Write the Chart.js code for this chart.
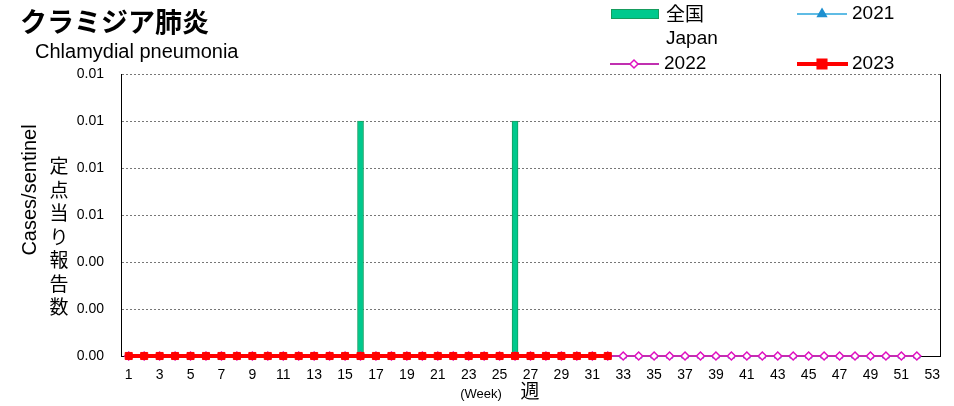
<!DOCTYPE html>
<html>
<head>
<meta charset="utf-8">
<script src="https://cdn.jsdelivr.net/npm/chart.js@4"></script>
<style>
  body { margin: 0; background: #fff; }
  #wrap { width: 954px; height: 406px; }
</style>
</head>
<body>
<div id="wrap"><canvas id="chart" width="954" height="406"></canvas></div>
<script>
// weeks 1..53
const weeks = [];
for (let w = 1; w <= 53; w++) weeks.push(String(w));

// cases per sentinel
const japan = [0, 0, 0, 0, 0, 0, 0, 0, 0, 0, 0, 0, 0, 0, 0, 0.01,
  0, 0, 0, 0, 0, 0, 0, 0, 0, 0.01, 0, 0, 0, 0, 0, 0];
const y2021 = [0, 0, 0, 0, 0, 0, 0, 0, 0, 0, 0, 0, 0, 0, 0, 0, 0, 0, 0, 0, 0, 0, 0, 0, 0, 0,
  0, 0, 0, 0, 0, 0, 0, 0, 0, 0, 0, 0, 0, 0, 0, 0, 0, 0, 0, 0, 0, 0, 0, 0, 0, 0];
const y2022 = [0, 0, 0, 0, 0, 0, 0, 0, 0, 0, 0, 0, 0, 0, 0, 0, 0, 0, 0, 0, 0, 0, 0, 0, 0, 0,
  0, 0, 0, 0, 0, 0, 0, 0, 0, 0, 0, 0, 0, 0, 0, 0, 0, 0, 0, 0, 0, 0, 0, 0, 0, 0];
const y2023 = [0, 0, 0, 0, 0, 0, 0, 0, 0, 0, 0, 0, 0, 0, 0, 0,
  0, 0, 0, 0, 0, 0, 0, 0, 0, 0, 0, 0, 0, 0, 0, 0];

const yTicks = { min: 0, max: 0.012, step: 0.002 };

const FONT = "'Liberation Sans', Arial, sans-serif";
const JFONT = "'Noto Sans CJK JP', sans-serif";

// titles, axis names and the legend are drawn by hand
const decorations = {
  id: 'decorations',
  afterDraw(chart) {
    const ctx = chart.ctx;
    const area = chart.chartArea;
    ctx.save();

    // right frame line
    ctx.strokeStyle = '#000';
    ctx.lineWidth = 1;
    ctx.beginPath();
    ctx.moveTo(Math.round(area.right) + 0.5, area.top);
    ctx.lineTo(Math.round(area.right) + 0.5, area.bottom);
    ctx.stroke();

    ctx.fillStyle = '#000';
    ctx.textBaseline = 'middle';
    ctx.textAlign = 'left';
    ctx.font = 'bold 27px ' + JFONT;
    ctx.fillText('クラミジア肺炎', 20, 22);
    ctx.font = '20px ' + FONT;
    ctx.fillText('Chlamydial pneumonia', 35, 52);

    // y axis names
    ctx.save();
    ctx.translate(30, 190);
    ctx.rotate(-Math.PI / 2);
    ctx.textAlign = 'center';
    ctx.font = '20px ' + FONT;
    ctx.fillText('Cases/sentinel', 0, 0);
    ctx.restore();

    ctx.textAlign = 'center';
    ctx.font = '19px ' + JFONT;
    const vert = '定点当り報告数';
    for (let i = 0; i < vert.length; i++) {
      ctx.fillText(vert[i], 59, 166 + i * 23.5);
    }

    // x axis names
    ctx.font = '13px ' + FONT;
    ctx.fillText('(Week)', 481, 394);
    ctx.font = '19px ' + JFONT;
    ctx.fillText('週', 530, 391);

    // legend
    ctx.textAlign = 'left';
    const ds = chart.data.datasets;

    // 全国 Japan
    ctx.fillStyle = ds[0].backgroundColor;
    ctx.strokeStyle = ds[0].borderColor;
    ctx.fillRect(611, 9, 48, 10);
    ctx.strokeRect(611.5, 9.5, 47, 9);
    ctx.fillStyle = '#000';
    ctx.font = '19px ' + JFONT;
    ctx.fillText('全国', 666, 14);
    ctx.font = '19px ' + FONT;
    ctx.fillText('Japan', 666, 39);

    // 2021
    ctx.strokeStyle = ds[1].borderColor;
    ctx.lineWidth = 1.5;
    ctx.beginPath();
    ctx.moveTo(797, 14);
    ctx.lineTo(847, 14);
    ctx.stroke();
    ctx.fillStyle = ds[1].pointBackgroundColor;
    ctx.strokeStyle = ds[1].pointBorderColor;
    Chart.helpers.drawPoint(ctx, { pointStyle: 'triangle', radius: 5, borderWidth: 1 }, 822, 14);
    ctx.fillStyle = '#000';
    ctx.fillText('2021', 852, 14);
    // 2022
    ctx.strokeStyle = ds[2].borderColor;
    ctx.lineWidth = ds[2].borderWidth;
    ctx.beginPath();
    ctx.moveTo(610, 64);
    ctx.lineTo(659, 64);
    ctx.stroke();
    ctx.fillStyle = ds[2].pointBackgroundColor;
    ctx.strokeStyle = ds[2].pointBorderColor;
    ctx.lineWidth = ds[2].pointBorderWidth;
    Chart.helpers.drawPoint(ctx, { pointStyle: 'rectRot', radius: ds[2].pointRadius, borderWidth: ds[2].pointBorderWidth }, 634, 64);
    ctx.fillStyle = '#000';
    ctx.fillText('2022', 664, 64);
    // 2023
    ctx.strokeStyle = ds[3].borderColor;
    ctx.lineWidth = ds[3].borderWidth;
    ctx.beginPath();
    ctx.moveTo(797, 64);
    ctx.lineTo(848, 64);
    ctx.stroke();
    ctx.fillStyle = ds[3].pointBackgroundColor;
    ctx.strokeStyle = ds[3].pointBorderColor;
    Chart.helpers.drawPoint(ctx, { pointStyle: 'rect', radius: ds[3].pointRadius, borderWidth: 1 }, 822, 64);
    ctx.fillStyle = '#000';
    ctx.fillText('2023', 852, 64);

    ctx.restore();
  }
};

new Chart(document.getElementById('chart'), {
  type: 'bar',
  data: {
    labels: weeks,
    datasets: [
      {
        label: '全国 Japan',
        data: japan,
        backgroundColor: '#00c98d',
        borderColor: '#169c5e',
        borderWidth: 1,
        barThickness: 6,
        order: 4
      },
      {
        type: 'line',
        label: '2021',
        data: y2021,
        borderColor: '#2aa6dc',
        borderWidth: 1,
        pointStyle: 'triangle',
        pointRadius: 4,
        pointBorderWidth: 1,
        pointBackgroundColor: '#1e90d0',
        pointBorderColor: '#1e90d0',
        clip: false,
        order: 3
      },
      {
        type: 'line',
        label: '2022',
        data: y2022,
        borderColor: '#c030b0',
        borderWidth: 2,
        pointStyle: 'rectRot',
        pointRadius: 4,
        pointBorderWidth: 1.5,
        pointBackgroundColor: '#fff',
        pointBorderColor: '#e010c0',
        clip: false,
        order: 2
      },
      {
        type: 'line',
        label: '2023',
        data: y2023,
        borderColor: '#ff0000',
        borderWidth: 4,
        pointStyle: 'rect',
        pointRadius: 5,
        pointBorderWidth: 1,
        pointBackgroundColor: '#ff0000',
        pointBorderColor: '#ff0000',
        clip: false,
        order: 1
      }
    ]
  },
  options: {
    responsive: false,
    animation: false,
    layout: { padding: { top: 74, right: 14, left: 0, bottom: 0 } },
    plugins: {
      legend: { display: false },
      tooltip: { enabled: false }
    },
    scales: {
      x: {
        offset: true,
        grid: { display: false, drawTicks: false },
        border: { color: '#000', width: 1 },
        ticks: {
          autoSkip: false,
          maxRotation: 0,
          padding: 11,
          color: '#000',
          font: { family: FONT, size: 14 },
          callback: (v, i) => (i % 2 === 0 ? weeks[i] : '')
        },
        afterFit: (s) => { s.height = 50; }
      },
      y: {
        min: yTicks.min,
        max: yTicks.max,
        grid: {
          color: '#777',
          drawTicks: false
        },
        border: { color: '#000', width: 1, dash: [2, 2] },
        ticks: {
          stepSize: yTicks.step,
          padding: 17,
          color: '#000',
          font: { family: FONT, size: 14 },
          callback: (v) => v.toFixed(2)
        },
        afterFit: (s) => { s.width = 121; }
      }
    }
  },
  plugins: [decorations]
});
</script>
</body>
</html>
